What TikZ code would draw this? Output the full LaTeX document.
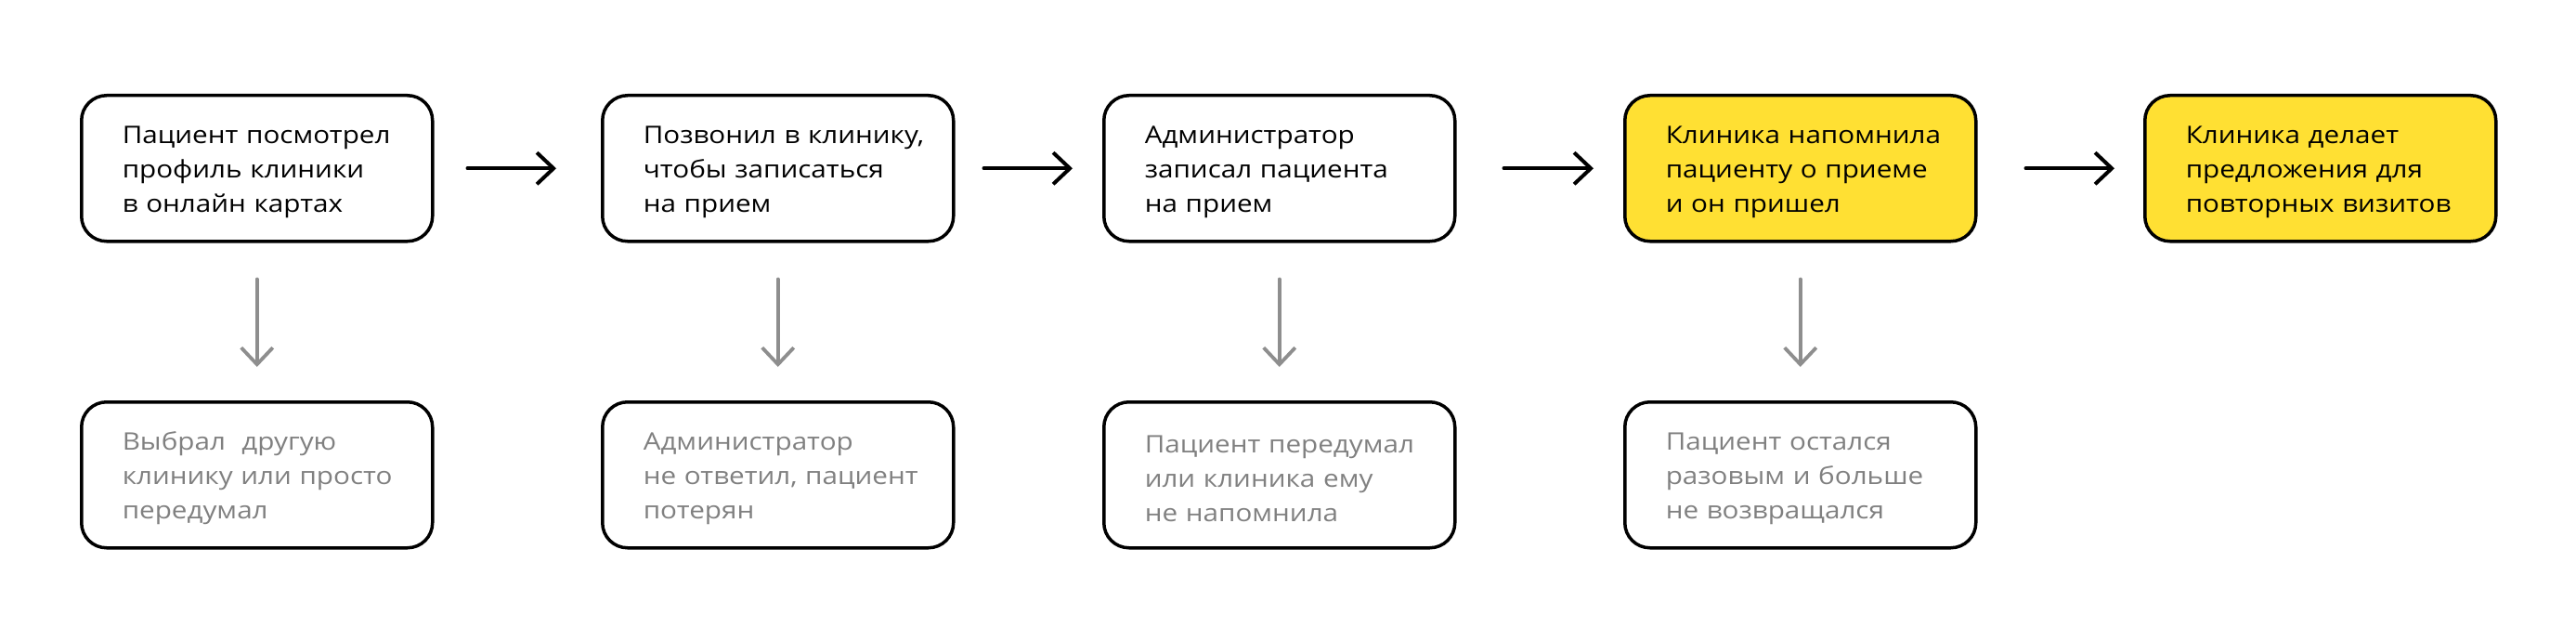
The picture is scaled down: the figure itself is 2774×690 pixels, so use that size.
\documentclass[tikz,border=0pt]{standalone}
\usepackage{fontspec}
\setmainfont[FakeStretch=1.14]{Open Sans}
\usetikzlibrary{arrows.meta}
\definecolor{boxyellow}{HTML}{FFE033}
\definecolor{txtgray}{HTML}{808080}
\definecolor{arrgray}{HTML}{8E8E8E}
\tikzset{
  stage/.style={draw=black, line width=1.75pt, rounded corners=13.5pt,
    minimum width=189pt, minimum height=78.5pt, text width=145pt,
    inner xsep=22pt, inner ysep=0pt, align=left, anchor=north west,
    font=\fontsize{13pt}{18.5pt}\selectfont},
  hl/.style={fill=boxyellow},
  lost/.style={text=txtgray},
  flow/.style={draw=black, line width=2pt, line cap=round, line join=round,
    -{Straight Barb[length=9pt, width=17pt, line width=2pt]}},
  drop/.style={draw=arrgray, line width=1.9pt, line cap=round, line join=round,
    -{Straight Barb[length=9pt, width=17pt, line width=1.9pt]}}
}
\hbadness=10000 \hfuzz=200pt
\begin{document}
\begin{tikzpicture}[x=0.5pt, y=-0.5pt]
\useasboundingbox (0,0) rectangle (2774,690);
% top row
\node[stage] (t1) at (86,101) {\rule{0pt}{13pt}\mbox{Пациент посмотрел}\\\mbox{профиль клиники}\\\mbox{в онлайн картах}};
\node[stage] (t2) at (647,101) {\rule{0pt}{13pt}\mbox{Позвонил в клинику,}\\\mbox{чтобы записаться}\\\mbox{на прием}};
\node[stage] (t3) at (1187,101) {\rule{0pt}{13pt}\mbox{Администратор}\\\mbox{записал пациента}\\\mbox{на прием}};
\node[stage, hl] (t4) at (1748,101) {\rule{0pt}{13pt}\mbox{Клиника напомнила}\\\mbox{пациенту о приеме}\\\mbox{и он пришел}};
\node[stage, hl] (t5) at (2308,101) {\rule{0pt}{13pt}\mbox{Клиника делает}\\\mbox{предложения для}\\\mbox{повторных визитов}};
% bottom row
\node[stage, lost] (b1) at (86,431) {\rule{0pt}{13pt}\mbox{Выбрал\ \ другую}\\\mbox{клинику или просто}\\\mbox{передумал}};
\node[stage, lost] (b2) at (647,431) {\rule{0pt}{13pt}\mbox{Администратор}\\\mbox{не ответил, пациент}\\\mbox{потерян}};
\node[stage, lost] (b3) at (1187,431) {\rule{0pt}{13pt}\mbox{Пациент передумал}\\\mbox{или клиника ему}\\\mbox{не напомнила}};
\node[stage, lost] (b4) at (1748,431) {\rule{0pt}{13pt}\mbox{Пациент остался}\\\mbox{разовым и больше}\\\mbox{не возвращался}};
% flow arrows
\draw[flow, shorten <=18pt, shorten >=24pt] (t1.east) -- (t2.west);
\draw[flow, shorten <=15.5pt, shorten >=16pt] (t2.east) -- (t3.west);
\draw[flow, shorten <=25.5pt, shorten >=16pt] (t3.east) -- (t4.west);
\draw[flow, shorten <=26pt, shorten >=15.5pt] (t4.east) -- (t5.west);
% drop arrows
\draw[drop, shorten <=19.5pt, shorten >=18pt] (t1.south) -- (b1.north);
\draw[drop, shorten <=19.5pt, shorten >=18pt] (t2.south) -- (b2.north);
\draw[drop, shorten <=19.5pt, shorten >=18pt] (t3.south) -- (b3.north);
\draw[drop, shorten <=19.5pt, shorten >=18pt] (t4.south) -- (b4.north);
\end{tikzpicture}
\end{document}
